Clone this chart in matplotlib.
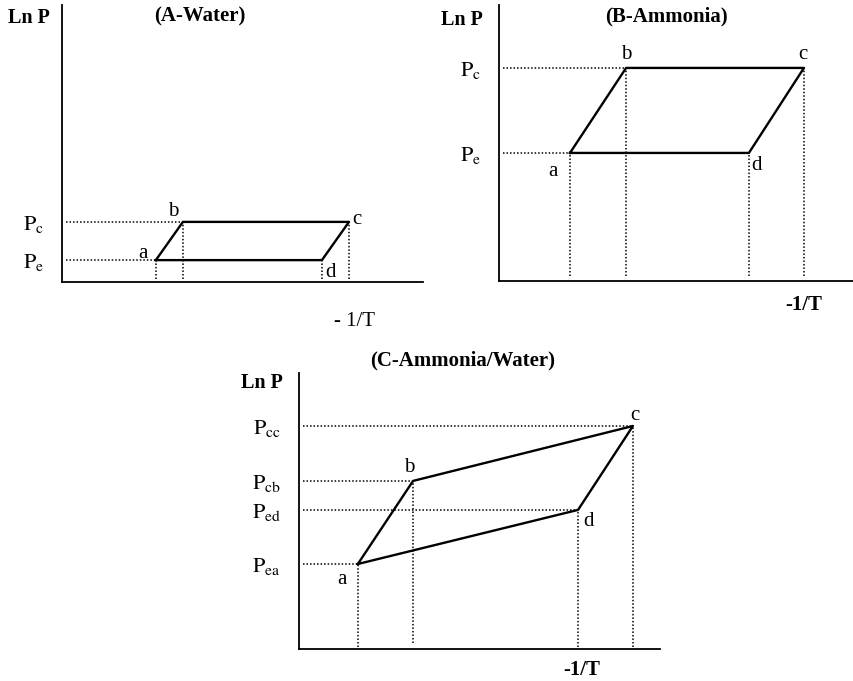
import matplotlib
matplotlib.use("Agg")
import matplotlib.pyplot as plt

plt.rcParams["font.family"] = ["Liberation Serif", "DejaVu Serif"]
plt.rcParams["mathtext.fontset"] = "stix"

# cycle corners a, b, c, d in (-1/T, Ln P), arbitrary units 0..100
corner_names = ["a", "b", "c", "d"]

water_x = [26.0, 33.5, 79.5, 72.0]
water_y = [7.9, 21.7, 21.7, 7.9]
water_ticks = [21.7, 7.9]
water_ticklabels = [r"$\mathrm{P_c}$", r"$\mathrm{P_e}$"]

ammonia_x = [20.0, 35.8, 85.9, 70.4]
ammonia_y = [46.4, 77.2, 77.2, 46.4]
ammonia_ticks = [77.2, 46.4]
ammonia_ticklabels = [r"$\mathrm{P_c}$", r"$\mathrm{P_e}$"]

mix_x = [16.3, 31.6, 92.5, 77.3]
mix_y = [30.8, 60.9, 80.8, 50.4]
mix_ticks = [80.8, 60.9, 50.4, 30.8]
mix_ticklabels = [r"$\mathrm{P_{cc}}$", r"$\mathrm{P_{cb}}$",
                  r"$\mathrm{P_{ed}}$", r"$\mathrm{P_{ea}}$"]

W, H = 854, 681
fig = plt.figure(figsize=(W / 100, H / 100), dpi=100)


def make_axes(left, top, right, bottom):
    # rect given in pixels of the output image
    return fig.add_axes([left / W, (H - bottom) / H, (right - left) / W, (bottom - top) / H])


def draw_cycle(ax, xs, ys, ticks, ticklabels, offsets, vstop, title, title_pos,
               lnp_pos, xlab, xlab_pos, xlab_bold):
    ax.set_xlim(0, 100)
    ax.set_ylim(0, 100)
    for s in ["top", "right"]:
        ax.spines[s].set_visible(False)
    for s in ["left", "bottom"]:
        ax.spines[s].set_linewidth(1.3)
    ax.set_xticks([])
    ax.set_yticks(ticks)
    ax.set_yticklabels(ticklabels, fontsize=16)
    ax.tick_params(axis="y", length=0, pad=13)

    # dotted guides to the axes
    for x, y, v in zip(xs, ys, vstop):
        ax.plot([x, x], [v, y], color="black", linestyle=(0, (1, 1.3)), linewidth=1.1)
    for y in sorted(set(ys)):
        x0 = min(x for x, yy in zip(xs, ys) if yy == y)
        ax.plot([1, x0], [y, y], color="black", linestyle=(0, (1, 1.3)), linewidth=1.1)

    ax.plot(xs + xs[:1], ys + ys[:1], color="black", linewidth=1.7)

    for name, x, y, off in zip(corner_names, xs, ys, offsets):
        ax.annotate(name, (x, y), xytext=off, textcoords="offset pixels",
                    ha="center", va="center", fontsize=15)

    ax.text(*title_pos, title, transform=ax.transAxes, ha="center", va="center",
            fontsize=15, fontweight="bold")
    ax.text(*lnp_pos, "Ln P", transform=ax.transAxes, ha="center", va="center",
            fontsize=14.5, fontweight="bold")
    ax.text(*xlab_pos, xlab, transform=ax.transAxes, ha="center", va="center",
            fontsize=15, fontweight="bold" if xlab_bold else "normal", clip_on=False)


ax_a = make_axes(62, 5, 423, 282)
draw_cycle(ax_a, water_x, water_y, water_ticks, water_ticklabels,
           [(-13, 7), (-10, 10), (8, 2), (9, -12)], [1, 1, 1, 1],
           "(A-Water)", (0.382, 0.957), (-0.091, 0.953),
           "- 1/T", (0.81, -0.144), False)

ax_b = make_axes(499, 5, 854, 281)
draw_cycle(ax_b, ammonia_x, ammonia_y, ammonia_ticks, ammonia_ticklabels,
           [(-17, -19), (0, 13), (-1, 13), (8, -13)], [1.8, 1.8, 1.8, 1.8],
           "(B-Ammonia)", (0.473, 0.957), (-0.104, 0.946),
           "-1/T", (0.859, -0.087), True)

ax_c = make_axes(299, 373, 660, 649)
draw_cycle(ax_c, mix_x, mix_y, mix_ticks, mix_ticklabels,
           [(-16, -16), (-4, 13), (2, 10), (10, -12)], [0.7, 2.2, 0.7, 0.7],
           "(C-Ammonia/Water)", (0.452, 1.047), (-0.102, 0.964),
           "-1/T", (0.784, -0.076), True)

fig.savefig("out.png", dpi=100)
